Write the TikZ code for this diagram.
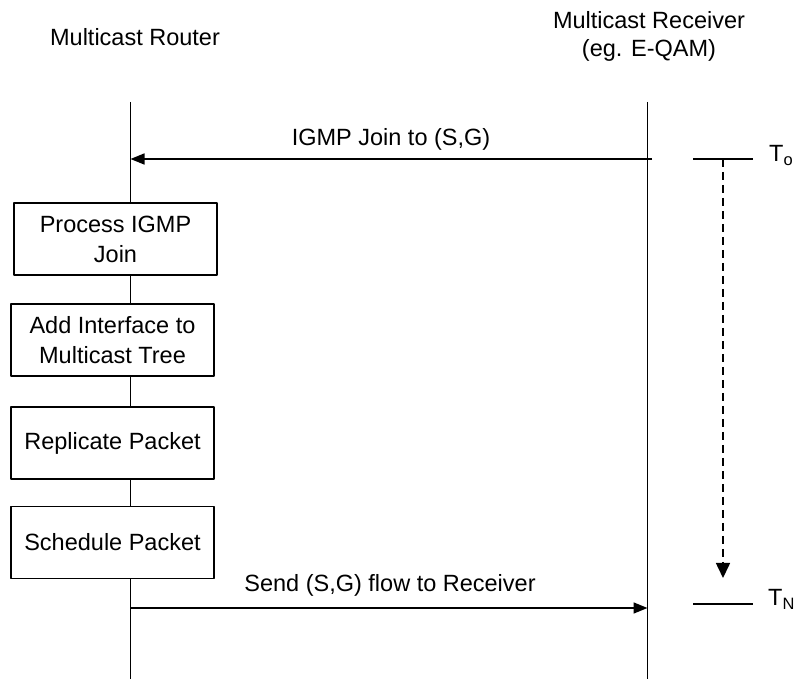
\documentclass[tikz,border=0pt]{standalone}
\usepackage{fontspec}
\setmainfont{Liberation Sans}
\usetikzlibrary{arrows.meta}
\tikzset{
  stepbox/.style={draw=black, line width=1.6bp, fill=white, minimum width=203bp, minimum height=72bp, inner sep=0pt, align=center, font=\fontsize{23.5bp}{30bp}\selectfont},
  lbl/.style={inner sep=0pt, font=\fontsize{23.5bp}{28bp}\selectfont},
  life/.style={black, line width=1.6bp},
  msg/.style={black, line width=1.6bp, -{Triangle[length=14bp,width=11bp]}},
  tickline/.style={black, line width=1.6bp},
  timespan/.style={black, line width=1.6bp, dash pattern=on 8bp off 5bp, -{Triangle[length=15bp,width=14bp]}},
}
\begin{document}
\begin{tikzpicture}[>=latex,line join=bevel]
\useasboundingbox (0bp,0bp) rectangle (794bp,679bp);
%%
\node (title_router) at (135bp,633bp) [lbl,anchor=base] {Multicast Router};
  \node (title_receiver) at (649bp,667.5bp) [lbl,anchor=north,align=center] {Multicast Receiver\\(eg. E-QAM)};
  \coordinate (router_top) at (130.5bp,577bp);
  \coordinate (router_bot) at (130.5bp,0bp);
  \coordinate (receiver_top) at (647.5bp,577bp);
  \coordinate (receiver_bot) at (647.5bp,0bp);
  \node (process) at (115.5bp,440bp) [stepbox] {Process IGMP\\Join};
  \node (addif) at (112.5bp,339bp) [stepbox] {Add Interface to\\Multicast Tree};
  \node (replicate) at (112.5bp,236bp) [stepbox] {Replicate Packet};
  \node (schedule) at (112.5bp,136.5bp) [stepbox] {Schedule Packet};
  \draw [life] (router_top) -- (process.north -| router_top);
  \draw [life] (process.south -| router_top) -- (addif.north -| router_top);
  \draw [life] (addif.south -| router_top) -- (replicate.north -| router_top);
  \draw [life] (replicate.south -| router_top) -- (schedule.north -| router_top);
  \draw [life] (schedule.south -| router_top) -- (router_bot);
  \draw [life] (receiver_top) -- (receiver_bot);
%
  \coordinate (join_from) at (652bp,520bp);
  \coordinate (join_to) at (130.5bp,520bp);
  \draw [msg] (join_from) -- (join_to);
  \node (join_lbl) at (391bp,533bp) [lbl,anchor=base] {IGMP Join to (S,G)};
  \coordinate (send_from) at (130.5bp,71bp);
  \coordinate (send_to) at (647.5bp,71bp);
  \draw [msg] (send_from) -- (send_to);
  \node (send_lbl) at (390bp,87bp) [lbl,anchor=base] {Send (S,G) flow to Receiver};
%
  \coordinate (t0_l) at (693bp,520bp);
  \coordinate (t0_r) at (753bp,520bp);
  \coordinate (t0_mid) at (723bp,520bp);
  \coordinate (tn_l) at (693bp,75bp);
  \coordinate (tn_r) at (753bp,75bp);
  \coordinate (tn_tip) at (723bp,101bp);
  \draw [tickline] (t0_l) -- (t0_r);
  \draw [tickline] (tn_l) -- (tn_r);
  \draw [timespan] (t0_mid) -- (tn_tip);
  \node (t0_lbl) at (769bp,517bp) [lbl,anchor=base west] {T\textsubscript{o}};
  \node (tn_lbl) at (768bp,73bp) [lbl,anchor=base west] {T\textsubscript{N}};
%
\end{tikzpicture}
\end{document}
